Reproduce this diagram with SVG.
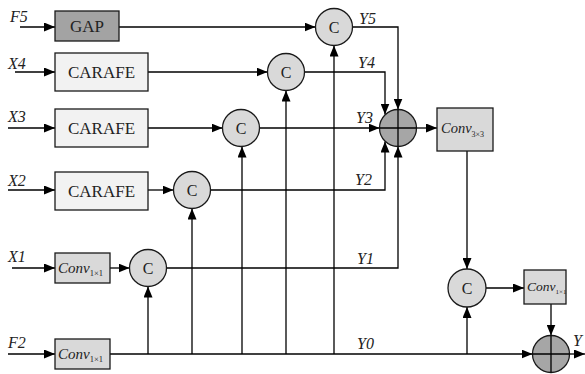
<svg xmlns="http://www.w3.org/2000/svg" width="585" height="374" viewBox="0 0 585 374">
<style>
.ln{fill:none;stroke:#000;stroke-width:1.3}
.box{stroke:#1a1a1a;stroke-width:1.3}
.gap{fill:#a3a3a3}
.car{fill:#f2f2f2}
.cv{fill:#d9d9d9}
.cc{fill:#d9d9d9;stroke:#1a1a1a;stroke-width:1.3}
.pl{fill:#a6a6a6;stroke:#1a1a1a;stroke-width:1.3}
.t{font-family:"Liberation Serif","Times New Roman",serif;fill:#222}
.lb{font-family:"Liberation Serif","Times New Roman",serif;font-style:italic;font-size:16px;fill:#222}
.bt{font-size:17px;text-anchor:middle}
.ct{font-size:16px;text-anchor:middle}
.cvt{font-style:italic;font-size:15px}
.sub{font-size:8.5px;font-style:normal}
</style>
<defs>
<marker id="ar" markerUnits="userSpaceOnUse" markerWidth="11" markerHeight="9" refX="11" refY="4.5" orient="auto">
<path d="M0,0 L11,4.5 L0,9 z" fill="#000"/>
</marker>
</defs>
<g id="connectors" class="ln" marker-end="url(#ar)">
<path d="M20,27 H55"/>
<path d="M119,27 H315.5"/>
<path d="M15,72 H55"/>
<path d="M148,72 H267.5"/>
<path d="M8,128 H55"/>
<path d="M148,128 H222.5"/>
<path d="M8,190 H55"/>
<path d="M148,190 H173.5"/>
<path d="M12,268 H55"/>
<path d="M110,268 H129.5"/>
<path d="M8,354 H55"/>
<path d="M110,354 H532.5"/>
<path d="M148,354 V286.5"/>
<path d="M192,354 V208.5"/>
<path d="M242,354 V146.5"/>
<path d="M286,354 V90.5"/>
<path d="M334,354 V45.5"/>
<path d="M467,354 V307"/>
<path d="M352.5,27 H398 V109.5"/>
<path d="M304.5,72 H385 V114.5"/>
<path d="M259.5,128 H379.5"/>
<path d="M210.5,190 H385 V141.5"/>
<path d="M166.5,268 H398 V146.5"/>
<path d="M416.5,128 H437"/>
<path d="M467,151 V269"/>
<path d="M486,288 H524"/>
<path d="M551,304 V335.5"/>
<path d="M569.5,354 H585"/>
</g>
<g id="in-labels">
<text class="lb" x="10" y="22">F5</text>
<text class="lb" x="8" y="69">X4</text>
<text class="lb" x="8" y="122">X3</text>
<text class="lb" x="8" y="186">X2</text>
<text class="lb" x="8" y="262">X1</text>
<text class="lb" x="8" y="348">F2</text>
</g>
<g id="out-labels">
<text class="lb" x="359" y="24">Y5</text>
<text class="lb" x="358" y="68">Y4</text>
<text class="lb" x="356" y="123">Y3</text>
<text class="lb" x="355" y="185">Y2</text>
<text class="lb" x="357" y="264">Y1</text>
<text class="lb" x="357" y="349">Y0</text>
<text class="lb" x="573" y="346">Y</text>
</g>
<g id="gap"><rect class="box gap" x="55" y="11" width="64" height="30"/><text class="t bt" x="87" y="32">GAP</text></g>
<g id="carafe4"><rect class="box car" x="55" y="53" width="93" height="38"/><text class="t bt" x="101.5" y="78">CARAFE</text></g>
<g id="carafe3"><rect class="box car" x="55" y="109" width="93" height="38"/><text class="t bt" x="101.5" y="134">CARAFE</text></g>
<g id="carafe2"><rect class="box car" x="55" y="172" width="93" height="38"/><text class="t bt" x="101.5" y="197">CARAFE</text></g>
<g id="conv-x1"><rect class="box cv" x="55" y="253" width="55" height="30"/><text class="t cvt" x="58" y="273">Conv<tspan class="sub" dy="3">1×1</tspan></text></g>
<g id="conv-f2"><rect class="box cv" x="55" y="339" width="55" height="30"/><text class="t cvt" x="58" y="359">Conv<tspan class="sub" dy="3">1×1</tspan></text></g>
<g id="c5"><circle class="cc" cx="334" cy="27" r="18.5"/><text class="t ct" x="334" y="33">C</text></g>
<g id="c4"><circle class="cc" cx="286" cy="72" r="18.5"/><text class="t ct" x="286" y="78">C</text></g>
<g id="c3"><circle class="cc" cx="241" cy="128" r="18.5"/><text class="t ct" x="241" y="134">C</text></g>
<g id="c2"><circle class="cc" cx="192" cy="190" r="18.5"/><text class="t ct" x="192" y="196">C</text></g>
<g id="c1"><circle class="cc" cx="148" cy="268" r="18.5"/><text class="t ct" x="148" y="274">C</text></g>
<g id="sum1"><circle class="pl" cx="398" cy="128" r="18.5"/><path class="ln" d="M379.5,128 H416.5 M398,109.5 V146.5"/></g>
<g id="conv3x3"><rect class="box cv" x="437" y="108" width="56" height="43"/><text class="t cvt" x="441" y="133" style="font-size:14.5px">Conv<tspan class="sub" dy="3.5" style="font-size:8px">3×3</tspan></text></g>
<g id="c6"><circle class="cc" cx="467" cy="288" r="19"/><text class="t ct" x="467" y="294">C</text></g>
<g id="conv-out"><rect class="box cv" x="524" y="270" width="42" height="34"/><text class="t cvt" x="527" y="291" style="font-size:13.5px">Conv<tspan class="sub" dy="3" style="font-size:7px">1×1</tspan></text></g>
<g id="sum2"><circle class="pl" cx="551" cy="354" r="18.5"/><path class="ln" d="M532.5,354 H569.5 M551,335.5 V372.5"/></g>
</svg>
